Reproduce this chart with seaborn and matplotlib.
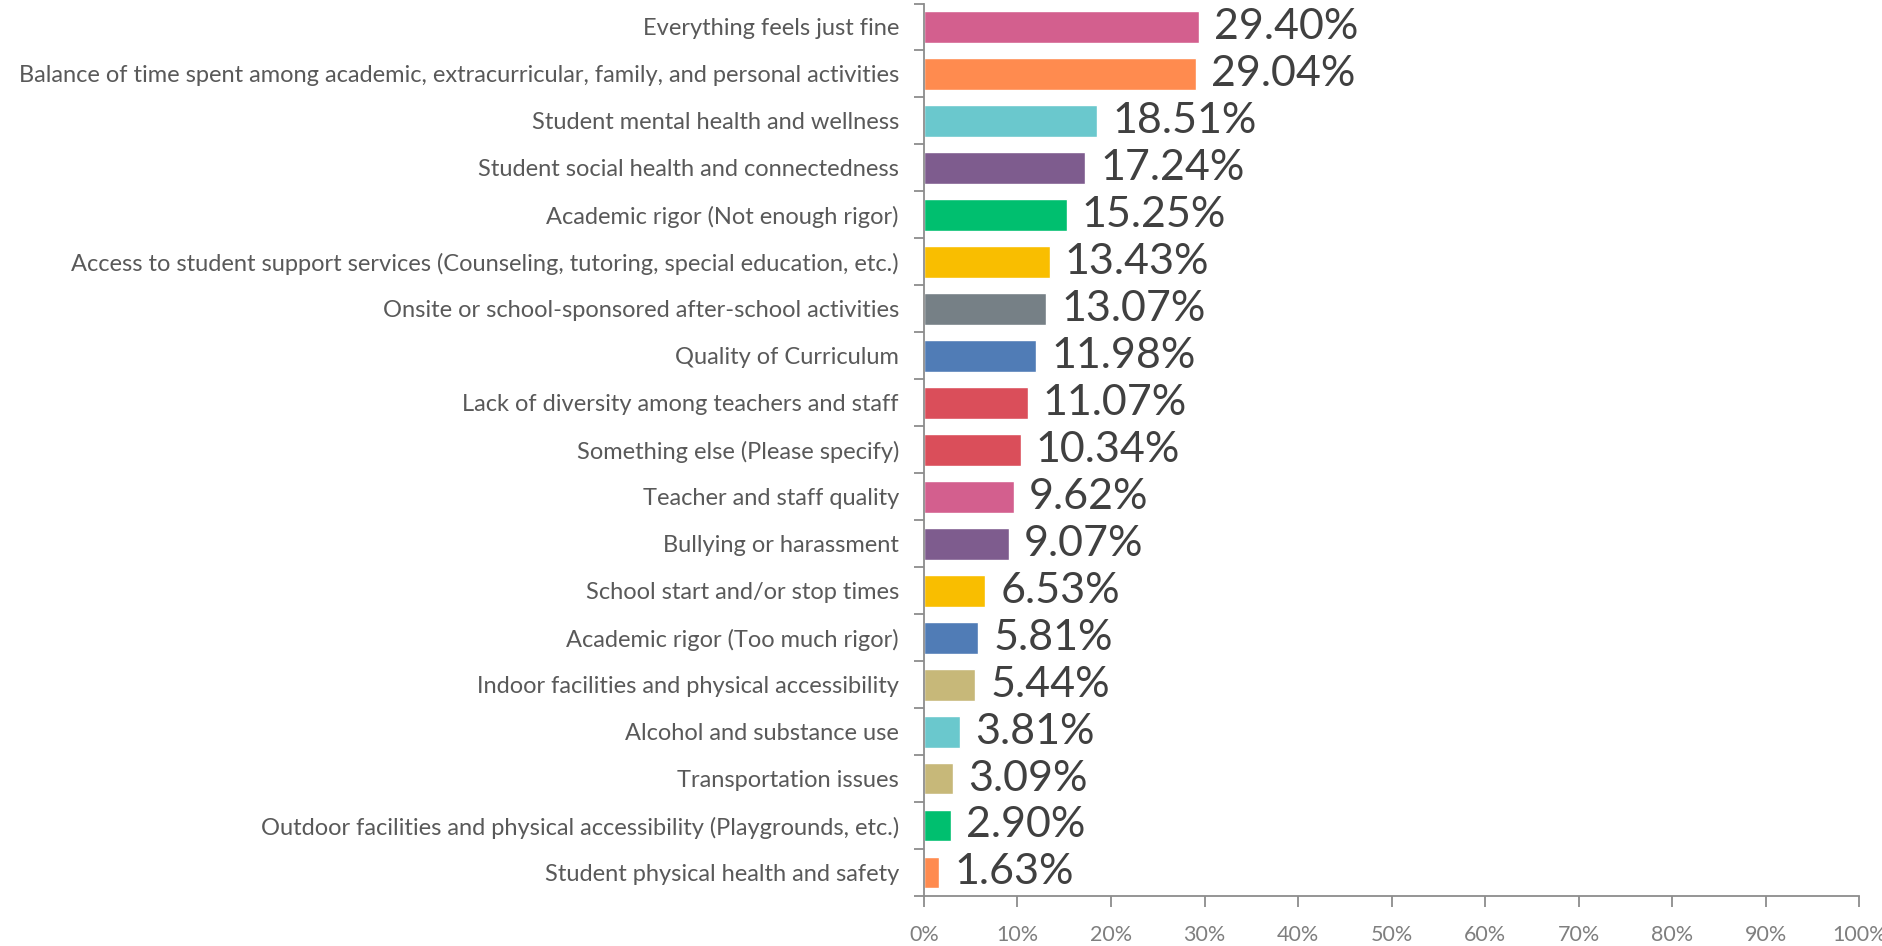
import matplotlib
matplotlib.use("Agg")
import matplotlib.pyplot as plt
import seaborn as sns
import pandas as pd
from matplotlib.ticker import FixedLocator

categories = [
    "Everything feels just fine",
    "Balance of time spent among academic, extracurricular, family, and personal activities",
    "Student mental health and wellness",
    "Student social health and connectedness",
    "Academic rigor (Not enough rigor)",
    "Access to student support services (Counseling, tutoring, special education, etc.)",
    "Onsite or school-sponsored after-school activities",
    "Quality of Curriculum",
    "Lack of diversity among teachers and staff",
    "Something else (Please specify)",
    "Teacher and staff quality",
    "Bullying or harassment",
    "School start and/or stop times",
    "Academic rigor (Too much rigor)",
    "Indoor facilities and physical accessibility",
    "Alcohol and substance use",
    "Transportation issues",
    "Outdoor facilities and physical accessibility (Playgrounds, etc.)",
    "Student physical health and safety",
]
values = [29.40, 29.04, 18.51, 17.24, 15.25, 13.43, 13.07, 11.98, 11.07, 10.34,
          9.62, 9.07, 6.53, 5.81, 5.44, 3.81, 3.09, 2.90, 1.63]
colors = ["#D35F8E", "#FF8B4F", "#6AC8CD", "#7E5C8E", "#00BF6F", "#F9BE00",
          "#768086", "#507CB6", "#DA4E5A", "#DA4E5A", "#D35F8E", "#7E5C8E",
          "#F9BE00", "#507CB6", "#C7B879", "#6AC8CD", "#C7B879", "#00BF6F",
          "#FF8B4F"]
xticks = [0, 10, 20, 30, 40, 50, 60, 70, 80, 90, 100]
xticklabels = [f"{t}%" for t in xticks]

df = pd.DataFrame({"category": categories, "value": values})

sns.set_theme(style="white")
plt.rcParams["font.family"] = ["Lato", "DejaVu Sans"]

fig = plt.figure(figsize=(18.83, 9.46), dpi=100)
ax = fig.add_axes([0.4907, 0.0529, 0.4966, 0.9434])

sns.barplot(data=df, y="category", x="value", hue="category", palette=colors,
            order=categories, hue_order=categories, orient="h", width=0.68,
            legend=False, ax=ax, saturation=1)

ax.set_xlim(0, 100)
ax.set_ylim(len(categories) - 0.5, -0.5)
ax.set_xlabel("")
ax.set_ylabel("")
ax.set_xticks(xticks)
ax.set_xticklabels(xticklabels)

for sp in ["top", "right"]:
    ax.spines[sp].set_visible(False)
for sp in ["left", "bottom"]:
    ax.spines[sp].set_visible(True)
    ax.spines[sp].set_color("#8C8C8C")
    ax.spines[sp].set_linewidth(1.3)

# y ticks at category boundaries
ax.set_yticks(range(len(categories)))
ax.set_yticklabels(categories)
ax.yaxis.set_minor_locator(FixedLocator([i - 0.5 for i in range(len(categories) + 1)]))
ax.tick_params(axis="y", which="major", length=0, pad=18, labelsize=17, labelcolor="#595959")
ax.tick_params(axis="y", which="minor", left=True, length=7, width=1.3, color="#8C8C8C")
ax.tick_params(axis="x", which="major", bottom=True, length=8, width=1.3, color="#8C8C8C",
               labelsize=15.5, labelcolor="#7F7F7F", pad=13)

for i, v in enumerate(values):
    ax.annotate(f"{v:.2f}%", xy=(v, i), xytext=(11, 0), textcoords="offset points",
                ha="left", va="center", fontsize=31, color="#404040")

fig.savefig("out.png", dpi=100)
